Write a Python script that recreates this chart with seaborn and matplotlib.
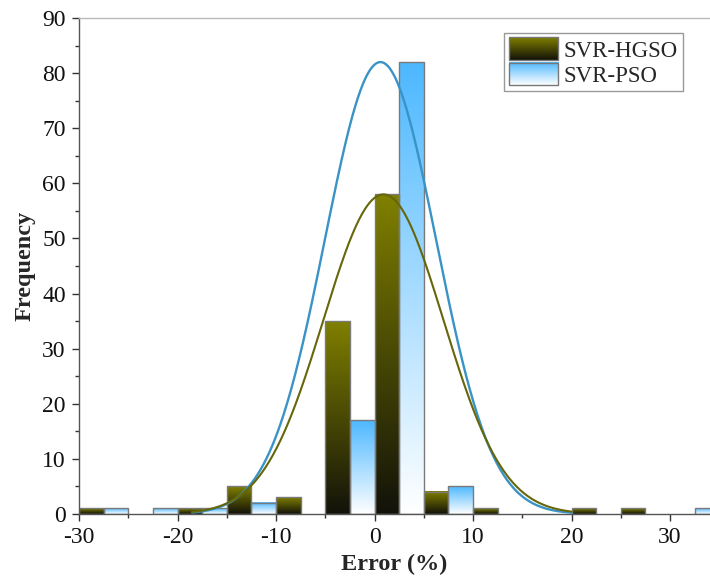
import numpy as np
import pandas as pd
import matplotlib
matplotlib.use("Agg")
import matplotlib.pyplot as plt
import seaborn as sns
from matplotlib.colors import LinearSegmentedColormap
from matplotlib.legend_handler import HandlerBase
from matplotlib.image import BboxImage
from matplotlib.transforms import Bbox, TransformedBbox
from matplotlib.patches import Rectangle
from matplotlib.ticker import MultipleLocator

# ---- data ----
bin_left = [-30, -25, -20, -15, -10, -5, 0, 5, 10, 15, 20, 25, 30]
hgso_counts = [1, 0, 1, 5, 3, 35, 58, 4, 1, 0, 1, 1, 0]
pso_counts = [1, 1, 1, 2, 0, 17, 82, 5, 0, 0, 0, 0, 1]
# fitted normal curves (amplitude, mean, sigma)
hgso_fit = dict(amp=58.0, mu=0.9, sigma=6.1)
pso_fit = dict(amp=82.0, mu=0.6, sigma=5.65)
curve_range = (-18.5, 20.0)
series_names = ["SVR-HGSO", "SVR-PSO"]

sns.set_theme(style="ticks")
plt.rcParams["font.family"] = ["Liberation Serif", "DejaVu Serif"]
plt.rcParams["axes.unicode_minus"] = False

fig = plt.figure(figsize=(7.10, 5.79), dpi=100)
ax = fig.add_axes([79 / 710, 65 / 579, 631 / 710, 496 / 579])

df_h = pd.DataFrame({"x": np.array(bin_left, dtype=float) + 1.25,
                     "w": np.array(hgso_counts, dtype=float)})
df_p = pd.DataFrame({"x": np.array(bin_left, dtype=float) + 3.75,
                     "w": np.array(pso_counts, dtype=float)})

olive_cmap = LinearSegmentedColormap.from_list("ol", ["#12120a", "#808000"])
blue_cmap = LinearSegmentedColormap.from_list("bl", ["#ffffff", "#4db8ff"])
grad = np.linspace(0, 1, 256).reshape(-1, 1)

n0 = len(ax.patches)
sns.histplot(data=df_h, x="x", weights="w", binwidth=2.5, binrange=(-30, 35), ax=ax,
             stat="count", fill=True, facecolor="none", edgecolor="#7a7a7a",
             linewidth=1.0, alpha=1)
n1 = len(ax.patches)
sns.histplot(data=df_p, x="x", weights="w", binwidth=2.5, binrange=(-30, 35), ax=ax,
             stat="count", fill=True, facecolor="none", edgecolor="#7a7a7a",
             linewidth=1.0, alpha=1)
n2 = len(ax.patches)

for patches, cmap in ((ax.patches[n0:n1], olive_cmap), (ax.patches[n1:n2], blue_cmap)):
    for p in patches:
        h = p.get_height()
        if h <= 0:
            p.set_visible(False)
            continue
        x0 = p.get_x()
        w = p.get_width()
        ax.imshow(grad, extent=[x0, x0 + w, 0, h], origin="lower", aspect="auto",
                  cmap=cmap, interpolation="bicubic", zorder=1.5)
        p.set_facecolor("none")
        p.set_zorder(2)

xs = np.linspace(curve_range[0], curve_range[1], 400)
def gauss(f):
    return f["amp"] * np.exp(-0.5 * ((xs - f["mu"]) / f["sigma"]) ** 2)

sns.lineplot(x=xs, y=gauss(pso_fit), ax=ax, color="#3a93c6", linewidth=1.7, zorder=3)
sns.lineplot(x=xs, y=gauss(hgso_fit), ax=ax, color="#66660a", linewidth=1.5, zorder=3)

ax.set_xlim(-30, 34.05)
ax.set_ylim(0, 90)
ax.xaxis.set_major_locator(MultipleLocator(10))
ax.xaxis.set_minor_locator(MultipleLocator(5))
ax.yaxis.set_major_locator(MultipleLocator(10))
ax.yaxis.set_minor_locator(MultipleLocator(5))
ax.tick_params(axis="both", which="major", direction="out", length=5, width=1,
               color="#333333", labelsize=17, pad=4.5, labelcolor="#111111")
ax.tick_params(axis="both", which="minor", direction="out", length=3, width=1, color="#333333")

for s in ("left", "bottom"):
    ax.spines[s].set_color("#555555")
    ax.spines[s].set_linewidth(1.0)
ax.spines["top"].set_color("#bbbbbb")
ax.spines["top"].set_linewidth(1.0)
ax.spines["right"].set_visible(False)

ax.set_xlabel("Error (%)", fontsize=17.5, fontweight="bold", labelpad=4)
ax.set_ylabel("Frequency", fontsize=17.5, fontweight="bold", labelpad=5)


class GradHandler(HandlerBase):
    def __init__(self, cmap):
        super().__init__()
        self.cmap = cmap

    def create_artists(self, legend, orig_handle, xdescent, ydescent, width, height,
                       fontsize, trans):
        bb = Bbox.from_bounds(-xdescent, -ydescent, width, height)
        img = BboxImage(TransformedBbox(bb, trans), cmap=self.cmap,
                        interpolation="bicubic", origin="lower")
        img.set_data(grad)
        rect = Rectangle((-xdescent, -ydescent), width, height, facecolor="none",
                         edgecolor="#777777", linewidth=1.0, transform=trans)
        return [img, rect]


h1 = Rectangle((0, 0), 1, 1)
h2 = Rectangle((0, 0), 1, 1)
leg = ax.legend([h1, h2], series_names,
                handler_map={h1: GradHandler(olive_cmap), h2: GradHandler(blue_cmap)},
                loc="upper left", bbox_to_anchor=(0.674, 0.970), borderaxespad=0,
                fontsize=16.5, handlelength=2.15, handleheight=1.15, handletextpad=0.25,
                labelspacing=0.05, borderpad=0.2, fancybox=False, framealpha=1,
                edgecolor="#999999")
leg.get_frame().set_linewidth(1.0)

fig.savefig("out.png", dpi=100)
